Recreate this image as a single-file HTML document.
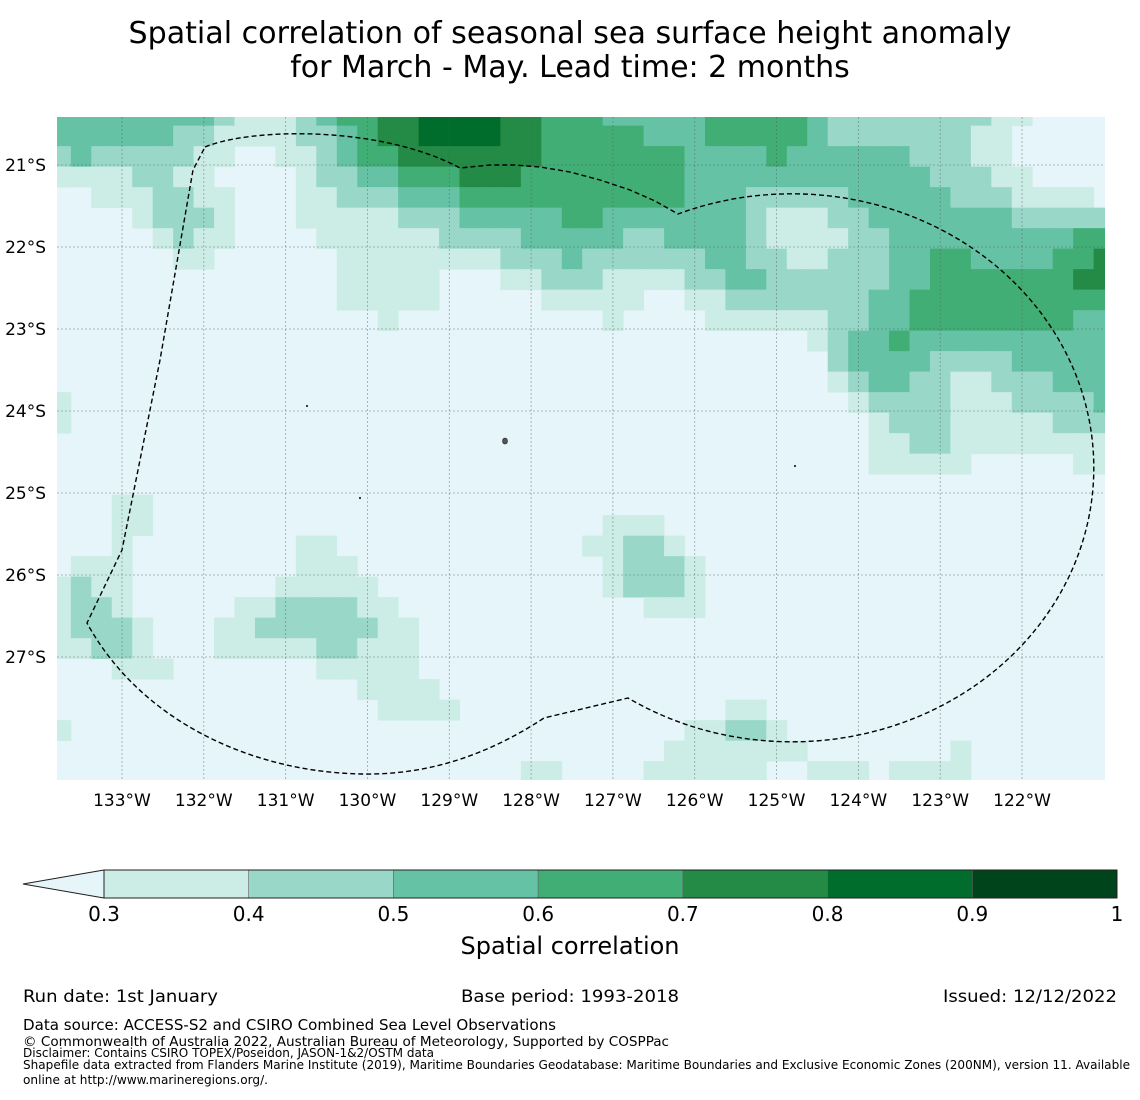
<!DOCTYPE html>
<html><head><meta charset="utf-8"><style>
html,body{margin:0;padding:0;background:#fff;}
body{width:1140px;height:1095px;overflow:hidden;}
svg text{font-family:"DejaVu Sans","Liberation Sans",sans-serif;}
.cond{font-family:"DejaVu Sans Condensed","Liberation Sans Narrow","DejaVu Sans",sans-serif !important;}
</style></head><body>
<svg id="fig" width="1140" height="1095" viewBox="0 0 1140 1095" xmlns="http://www.w3.org/2000/svg">
<text x="570" y="43" font-size="30" text-anchor="middle" textLength="883" lengthAdjust="spacingAndGlyphs">Spatial correlation of seasonal sea surface height anomaly</text>
<text x="570" y="77" font-size="30" text-anchor="middle">for March - May. Lead time: 2 months</text>
<defs><clipPath id="mapclip"><rect x="57" y="117" width="1048" height="663"/></clipPath></defs>
<g id="map" clip-path="url(#mapclip)"></g>
<g id="grid"></g>
<path fill="none" stroke="#000" stroke-width="1.4" stroke-dasharray="5,3"
 d="M205,147 C250,128 380,125 460,168 L490,165 L515,165 L540,167 L570,172 L600,180 L630,190 L655,201 L678,214 A302,274 0 1 1 628,698 L544,718 C480,760 420,775 362,774 C250,772 140,720 87,623 L122,550 L160,360 L193,170 Z"/>
<g fill="#555" stroke="#222" stroke-width="0.6">
<ellipse cx="505" cy="441" rx="2.5" ry="3"/><circle cx="307" cy="406" r="0.8"/><circle cx="360" cy="498" r="0.8"/><circle cx="795" cy="466" r="0.8"/>
</g>
<g id="axes"></g>
<g id="cbar"></g>
<text x="570" y="954" font-size="24" text-anchor="middle">Spatial correlation</text>
<text class="cond" x="23" y="1002" font-size="17" textLength="195" lengthAdjust="spacingAndGlyphs">Run date: 1st January</text>
<text class="cond" x="461" y="1002" font-size="17" textLength="218" lengthAdjust="spacingAndGlyphs">Base period: 1993-2018</text>
<text class="cond" x="943" y="1002" font-size="17" textLength="174" lengthAdjust="spacingAndGlyphs">Issued: 12/12/2022</text>
<text class="cond" x="23" y="1030" font-size="15" textLength="533" lengthAdjust="spacingAndGlyphs">Data source: ACCESS-S2 and CSIRO Combined Sea Level Observations</text>
<text class="cond" x="23" y="1046" font-size="13.5" textLength="646" lengthAdjust="spacingAndGlyphs">© Commonwealth of Australia 2022, Australian Bureau of Meteorology, Supported by COSPPac</text>
<text class="cond" x="23" y="1057" font-size="12" textLength="411" lengthAdjust="spacingAndGlyphs">Disclaimer: Contains CSIRO TOPEX/Poseidon, JASON-1&amp;2/OSTM data</text>
<text class="cond" x="23" y="1069" font-size="12" textLength="1107" lengthAdjust="spacingAndGlyphs">Shapefile data extracted from Flanders Marine Institute (2019), Maritime Boundaries Geodatabase: Maritime Boundaries and Exclusive Economic Zones (200NM), version 11. Available</text>
<text class="cond" x="23" y="1084" font-size="12" textLength="245" lengthAdjust="spacingAndGlyphs">online at http://www.marineregions.org/.</text>
</svg>
<script>
const levelColors = ["#e5f5f9","#ccece6","#99d8c9","#66c2a4","#41ae76","#238b45","#006d2c","#00441b"];
const cbarBounds = [0.3,0.4,0.5,0.6,0.7,0.8,0.9,1];
const cbarLabels = ["0.3","0.4","0.5","0.6","0.7","0.8","0.9","1"];
const lonTicks = [133,132,131,130,129,128,127,126,125,124,123,122];
const latTicks = [21,22,23,24,25,26,27];
const cellLonStart = 133.875;
const cellLatStart = 20.27;
const cellStep = 0.25;
const gridRows = [
"3*8,2,1*3,2,3,4*2,5*2,6*4,5*2,4*3,3*5,4*5,3,2*8,1*2,0*4",
"3*6,2*2,1*4,2*2,3,4,5*2,6*4,5*2,4*5,3*3,4*5,3,2*7,1*2,0*5",
"2,3,2*5,1*2,0*2,1*2,2,3,4*2,5*7,4*7,3*4,4,3*6,2*3,1*2,0*5",
"1*4,2*2,1*2,0*4,1,2*2,3*2,4*3,5*3,4*8,3*12,2*3,1*2,0*4",
"0*2,1*3,2*2,1*2,0*3,1*2,2*3,3*3,4*11,3*3,2*5,3*5,2*3,1*4,0",
"0*4,1,2*3,1,0*3,1*5,2*3,3*5,4*2,3*7,2,1*3,2*2,3*7,2*5",
"0*5,1,2,1*2,0*4,1*6,2*4,3*5,2*2,3*4,2,1*4,2*2,3*9,4*2",
"0*6,1*2,0*6,1*8,2*3,3,2*6,3*2,2*2,1*2,2*3,3*2,4*2,3*4,4*2,5",
"0*14,1*5,0*3,1*2,2*3,1*4,2*2,3*2,2*6,3*2,4*7,5*2",
"0*14,1*5,0*5,1*5,0*2,1*2,2*7,3*2,4*10",
"0*16,1,0*10,1,0*4,1*6,2*2,3*2,4*8,3*2",
"0*37,1,2,3*2,4,3*10",
"0*38,2,3*4,2*4,3*5",
"0*38,1,2,3*2,2*2,1*2,2*3,3*3",
"1,0*38,1,2*4,1*3,2*4,3",
"1,0*39,1,2*3,1*5,2*3",
"0*40,1*2,2*2,1*8",
"0*40,1*5,0*5,1*2",
"0*52",
"0*3,1*2,0*47",
"0*3,1*2,0*22,1*3,0*22",
"0*3,1,0*8,1*2,0*12,1*2,2*2,1,0*21",
"0,1*3,0*8,1*3,0*12,1,2*3,1,0*20",
"1,2,1*2,0*7,1*5,0*11,1,2*3,1,0*20",
"1,2*2,1,0*5,1*2,2*4,1*2,0*12,1*3,0*20",
"1,2*3,1,0*3,1*2,2*6,1*2,0*34",
"1*2,2*2,1,0*3,1*5,2*2,1*3,0*34",
"0*3,1*3,0*7,1*5,0*34",
"0*15,1*4,0*33",
"0*16,1*4,0*13,1*2,0*17",
"1,0*30,1*2,2*2,1,0*16",
"0*30,1*7,0*7,1,0*7",
"0*23,1*2,0*4,1*6,0*2,1*3,0,1*4,0*7"
];
const NS="http://www.w3.org/2000/svg";
function xOf(lonW){return 122+(133-lonW)*81.82;}
function yOf(latS){return 165+(latS-21)*82;}
function cbX(v){return 104+(v-0.3)/0.7*(1117-104);}
function decode(s){const out=[];s.split(",").forEach(t=>{const p=t.split("*");const n=p.length>1?+p[1]:1;for(let i=0;i<n;i++)out.push(+p[0]);});return out;}
function mk(tag,attrs,parent){const e=document.createElementNS(NS,tag);for(const k in attrs)e.setAttribute(k,attrs[k]);parent.appendChild(e);return e;}
const map=document.getElementById("map");
const bg=mk("rect",{x:57,y:117,width:1048,height:663,fill:levelColors[0]},map);


gridRows.forEach((row,r)=>{
  const vals=decode(row);
  const y0=yOf(cellLatStart+r*cellStep), y1=yOf(cellLatStart+(r+1)*cellStep);
  vals.forEach((v,c)=>{
    if(v===0)return;
    const x0=xOf(cellLonStart-c*cellStep), x1=xOf(cellLonStart-(c+1)*cellStep);
    const cell=mk("rect",{x:x0.toFixed(2),y:y0.toFixed(2),width:(x1-x0+0.4).toFixed(2),height:(y1-y0+0.4).toFixed(2),fill:levelColors[v]},map);
    
    
  });
});
const grid=document.getElementById("grid"), axes=document.getElementById("axes");
lonTicks.forEach(l=>{
  const x=xOf(l);
  const ln=mk("line",{x1:x,y1:117,x2:x,y2:780,stroke:"#555","stroke-opacity":"0.5","stroke-width":"0.8","stroke-dasharray":"2,2"},grid);
  
  
  const t=mk("text",{x:x,y:806,"font-size":"17","text-anchor":"middle"},axes);
  t.textContent=l+"°W";
  
  
});
latTicks.forEach(l=>{
  const y=yOf(l);
  const ln=mk("line",{x1:57,y1:y,x2:1105,y2:y,stroke:"#555","stroke-opacity":"0.5","stroke-width":"0.8","stroke-dasharray":"2,2"},grid);
  
  
  const t=mk("text",{x:46,y:y+6,"font-size":"17","text-anchor":"end"},axes);
  t.textContent=l+"°S";
  
  
});
const cb=document.getElementById("cbar");
const tri=mk("polygon",{points:"23,884 "+cbX(0.3)+",870 "+cbX(0.3)+",898",fill:levelColors[0],stroke:"#222","stroke-width":"1"},cb);


for(let i=0;i<cbarBounds.length-1;i++){
  const x0=cbX(cbarBounds[i]),x1=cbX(cbarBounds[i+1]);
  const seg=mk("rect",{x:x0,y:870,width:x1-x0,height:28,fill:levelColors[i+1],stroke:"#666","stroke-width":"0.6"},cb);
  
  
}
const frame=mk("rect",{x:cbX(0.3),y:870,width:cbX(1)-cbX(0.3),height:28,fill:"none",stroke:"#222","stroke-width":"1"},cb);


cbarBounds.forEach((b,i)=>{
  const t=mk("text",{x:cbX(b),y:921,"font-size":"20","text-anchor":"middle"},cb);
  t.textContent=cbarLabels[i];
  
  
});
</script>
</body></html>
